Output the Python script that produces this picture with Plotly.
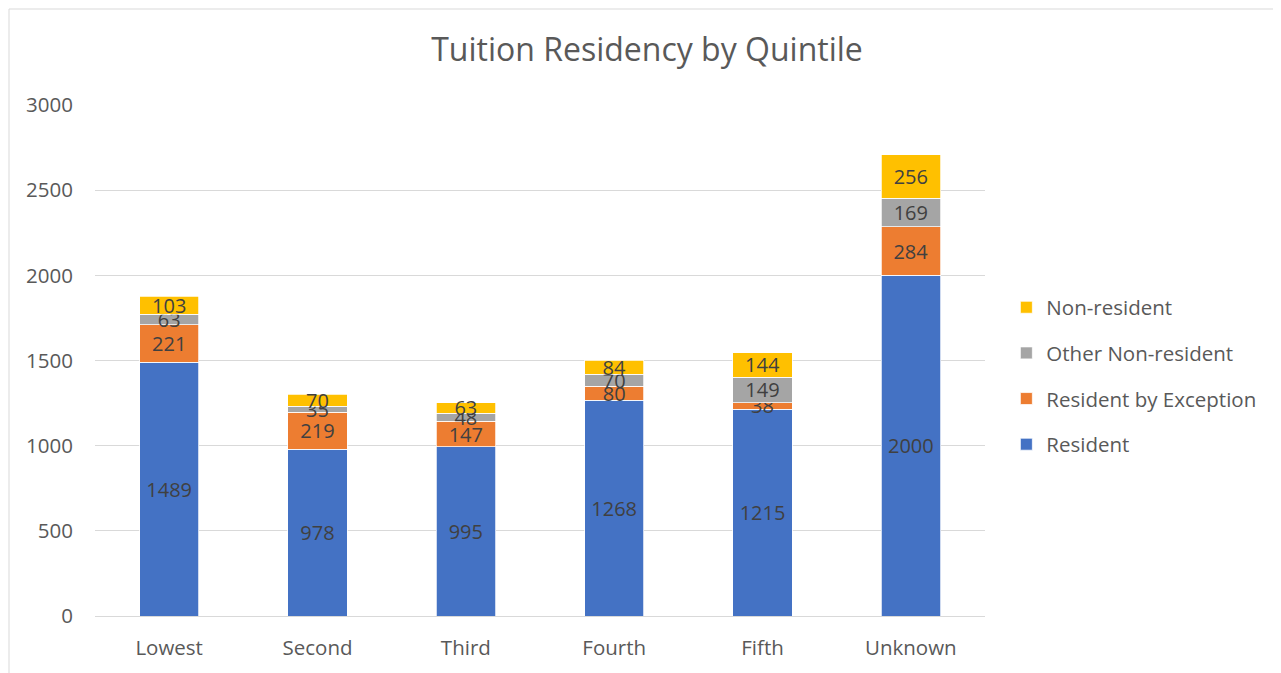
import plotly.graph_objects as go

# data
quintiles = ["Lowest", "Second", "Third", "Fourth", "Fifth", "Unknown"]
resident = [1489, 978, 995, 1268, 1215, 2000]
resident_by_exception = [221, 219, 147, 80, 38, 284]
other_non_resident = [63, 35, 48, 70, 149, 169]
non_resident = [103, 70, 63, 84, 144, 256]

series = [
    ("Resident", resident, "#4472C4"),
    ("Resident by Exception", resident_by_exception, "#ED7D31"),
    ("Other Non-resident", other_non_resident, "#A5A5A5"),
    ("Non-resident", non_resident, "#FFC000"),
]

FONT = "Open Sans"
TEXT_GREY = "#595959"
# the page puts the figure 8px in from the top-left corner
OFFSET = 8

fig = go.Figure()
for i, (name, values, color) in enumerate(series):
    fig.add_trace(go.Bar(
        x=quintiles,
        y=values,
        name=name,
        legendgroup=name,
        legendrank=len(series) - i,  # top of stack listed first
        marker=dict(color=color, line=dict(color="white", width=0.75)),
        text=values,
        textposition="inside",
        insidetextanchor="middle",
        textangle=0,
        textfont=dict(family=FONT, size=20, color="#404040"),
        hoverinfo="x+y+name",
    ))

fig.update_layout(
    width=1281,
    height=673,
    barmode="stack",
    bargap=0.6,
    paper_bgcolor="white",
    plot_bgcolor="white",
    font=dict(family=FONT, color=TEXT_GREY, size=20),
    uniformtext=dict(minsize=20, mode="show"),
    margin=dict(l=95 - OFFSET, r=296 + OFFSET, t=105 - OFFSET, b=57 + OFFSET),
    title=dict(
        text="Tuition Residency by Quintile",
        x=(647 - OFFSET) / 1281, xanchor="center",
        y=1 - (50 - OFFSET) / 673, yanchor="middle",
        font=dict(family=FONT, size=32, color=TEXT_GREY),
    ),
    legend=dict(
        x=1.024, xanchor="left",
        y=0.643, yanchor="top",
        traceorder="grouped",
        tracegroupgap=16,
        font=dict(family=FONT, size=20.5, color=TEXT_GREY),
        bgcolor="rgba(0,0,0,0)",
    ),
    showlegend=True,
)

fig.update_yaxes(
    range=[0, 3000],
    dtick=500,
    showgrid=True,
    gridcolor="#D9D9D9",
    gridwidth=1,
    zeroline=True,
    zerolinecolor="#D9D9D9",
    zerolinewidth=1,
    showline=False,
    ticklabelstandoff=21,
    tickfont=dict(family=FONT, size=20.5, color=TEXT_GREY),
)
fig.update_xaxes(
    showgrid=False,
    showline=False,
    ticklabelstandoff=17,
    tickfont=dict(family=FONT, size=20.5, color=TEXT_GREY),
)

# chart area border (only top and left edges are inside the picture)
fig.add_shape(
    type="rect", xref="paper", yref="paper",
    x0=-(95 - OFFSET - 1) / 890, x1=1.6, y0=-0.3, y1=(511 + 105 - OFFSET - 1) / 511,
    line=dict(color="#D9D9D9", width=1),
    fillcolor="rgba(0,0,0,0)",
    layer="below",
)

fig.write_html("out.html")
